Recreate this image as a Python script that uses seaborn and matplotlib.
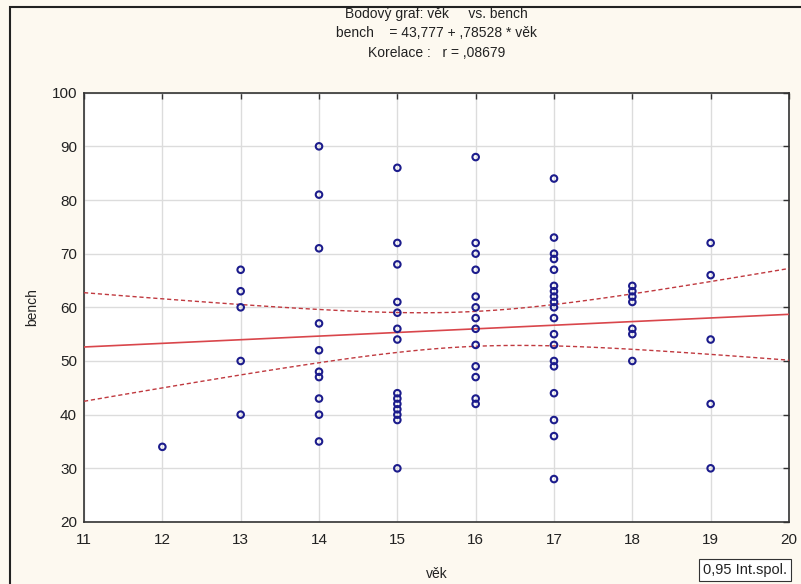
import matplotlib
matplotlib.use('Agg')
import matplotlib.pyplot as plt
import numpy as np
import seaborn as sns
import pandas as pd

# vek (age) per column and the bench values
vek_12 = [34]
vek_13 = [67, 63, 60, 50, 40]
vek_14 = [90, 81, 71, 57, 52, 48, 47, 43, 40, 35]
vek_15 = [86, 72, 68, 61, 59, 56, 54, 44, 43, 42, 41, 40, 39, 30]
vek_16 = [88, 72, 70, 67, 62, 60, 58, 56, 53, 49, 47, 43, 42]
vek_17 = [84, 73, 70, 69, 67, 64, 63, 62, 61, 60, 58, 55, 53, 50, 49, 44, 39, 36, 28]
vek_18 = [64, 63, 62, 61, 56, 55, 50]
vek_19 = [72, 66, 54, 42, 30]

groups = {12: vek_12, 13: vek_13, 14: vek_14, 15: vek_15,
          16: vek_16, 17: vek_17, 18: vek_18, 19: vek_19}
rows = [(k, v) for k, vals in groups.items() for v in vals]
df = pd.DataFrame(rows, columns=['věk', 'bench'])

x_ticks = [11, 12, 13, 14, 15, 16, 17, 18, 19, 20]
y_ticks = [20, 30, 40, 50, 60, 70, 80, 90, 100]

sns.set_style('white')
plt.rcParams['font.family'] = ['Liberation Sans', 'DejaVu Sans']

bg = '#fdf9f0'
fig = plt.figure(figsize=(8.01, 5.84), dpi=100, facecolor=bg)
ax = fig.add_axes([0.1049, 0.1062, 0.8801, 0.7351])
ax.set_facecolor('white')

# linear fit + 95% confidence band of the mean
x = df['věk'].to_numpy(float)
y = df['bench'].to_numpy(float)
n = len(x)
b, a = np.polyfit(x, y, 1)
resid = y - (a + b * x)
s = np.sqrt(np.sum(resid ** 2) / (n - 2))
xx = np.linspace(11, 20, 100)
yy = a + b * xx
se = s * np.sqrt(1 / n + (xx - x.mean()) ** 2 / np.sum((x - x.mean()) ** 2))
t = 1.985
ax.plot(xx, yy, color='#d9464b', lw=1.2, zorder=3)
ax.plot(xx, yy + t * se, color='#c0393f', lw=1.0, ls=(0, (3, 2)), zorder=3)
ax.plot(xx, yy - t * se, color='#c0393f', lw=1.0, ls=(0, (3, 2)), zorder=3)

sns.scatterplot(data=df, x='věk', y='bench', ax=ax, marker='o',
                facecolor='none', edgecolor='#1c1c8c', linewidth=1.5, s=22, zorder=4)

ax.set_xlim(11, 20)
ax.set_ylim(20, 100)
ax.set_xticks(x_ticks)
ax.set_yticks(y_ticks)
ax.grid(True, color='#dcdcdc', lw=1.0)
ax.set_axisbelow(True)
for sp in ax.spines.values():
    sp.set_color('#333333')
    sp.set_linewidth(1.2)
ax.tick_params(direction='in', length=4, width=1, color='#333333',
               top=True, right=True, labelsize=11, labelcolor='#222222', pad=5)
ax.tick_params(axis='x', pad=8)
ax.set_xlabel('věk', fontsize=10, color='#222222', labelpad=14)
ax.set_ylabel('bench', fontsize=10, color='#222222', labelpad=9)

fig.text(0.545, 0.976, 'Bodový graf: věk     vs. bench', ha='center', va='center', fontsize=10, color='#222222')
fig.text(0.545, 0.943, 'bench    = 43,777 + ,78528 * věk', ha='center', va='center', fontsize=10, color='#222222')
fig.text(0.545, 0.909, 'Korelace :   r = ,08679', ha='center', va='center', fontsize=10, color='#222222')

fig.text(0.93, 0.024, '0,95 Int.spol.', ha='center', va='center', fontsize=10.5, color='#222222',
         bbox=dict(boxstyle='square,pad=0.3', facecolor='white', edgecolor='#333333', lw=0.8))

# outer frame of the figure
fig.patches.append(plt.Rectangle((0.012, -0.01), 1.1, 0.998, transform=fig.transFigure,
                                 fill=False, edgecolor='#222222', lw=1.5))

fig.savefig('out.png', dpi=100, facecolor=bg)
